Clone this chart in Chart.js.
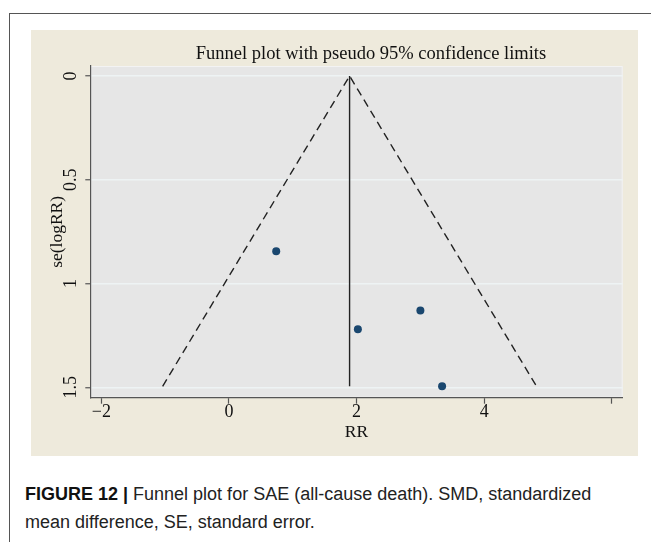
<!DOCTYPE html>
<html>
<head>
<meta charset="utf-8">
<script src="https://cdn.jsdelivr.net/npm/chart.js@4.4.1/dist/chart.umd.min.js"></script>
<style>
  body { margin: 0; background: #fff; width: 651px; height: 542px; overflow: hidden; position: relative; }
  #frame { position: absolute; left: 9px; top: 13px; width: 700px; height: 600px;
           border-left: 1.5px solid #555; border-top: 1.5px solid #555; }
  #panel { position: absolute; left: 31px; top: 30px; width: 607px; height: 426px; background: #eeeadc; }
  #caption { position: absolute; left: 25px; top: 480px; width: 620px;
             font-family: "Liberation Sans", Arial, sans-serif; font-size: 18px; line-height: 28px; color: #222; }
  #caption b { color: #111; }
</style>
</head>
<body>
<div id="frame"></div>
<div id="panel"><canvas id="funnel" width="607" height="426"></canvas></div>
<div id="caption"><b>FIGURE 12 |</b> Funnel plot for SAE (all-cause death). SMD, standardized<br>mean difference, SE, standard error.</div>
<script>
// исследования: RR и его стандартная ошибка
const studyRR = [0.74, 2.02, 3.00, 3.34];
const studySE = [0.845, 1.22, 1.13, 1.495];

// линии воронки (псевдо 95% границы) и вертикаль объединённой оценки
const funnelX = [-1.04, 1.89, 4.82];
const funnelSE = [1.495, 0, 1.495];
const pooledX = [1.89, 1.89];
const pooledSE = [0, 1.495];

const xTicks = [-2, 0, 2, 4, 6];
const xTickLabels = ['\u22122', '0', '2', '4', ''];
const yTicks = [0, 0.5, 1, 1.5];
const yTickLabels = ['0', '0.5', '1', '1.5'];

const titleText = 'Funnel plot with pseudo 95% confidence limits';
const serif = '"Liberation Serif", "Times New Roman", serif';

function toPoints(xs, ys) {
    return xs.map((x, i) => ({ x: x, y: ys[i] }));
}

// серый фон области графика и заголовок
const plotBg = {
    id: 'plotBg',
    beforeDraw(chart) {
        const { ctx, chartArea: a } = chart;
        ctx.save();
        ctx.fillStyle = '#e6e6e6';
        ctx.fillRect(a.left, a.top, a.right - a.left, a.bottom - a.top);
        ctx.strokeStyle = '#f3f3f3';
        ctx.lineWidth = 1;
        ctx.strokeRect(a.left + 0.5, a.top + 0.5, a.right - a.left - 1, a.bottom - a.top - 1);
        ctx.restore();
    },
    afterDraw(chart) {
        const ctx = chart.ctx;
        ctx.save();
        ctx.font = '18.5px ' + serif;
        ctx.fillStyle = '#111';
        ctx.textAlign = 'center';
        ctx.textBaseline = 'middle';
        ctx.fillText(titleText, 340, 24);
        ctx.restore();
    }
};

const ctx = document.getElementById('funnel').getContext('2d');

const funnelChart = new Chart(ctx, {
    type: 'scatter',
    data: {
        datasets: [
            {
                label: 'pseudo 95% CI',
                data: toPoints(funnelX, funnelSE),
                showLine: true,
                borderColor: '#222',
                borderWidth: 1.4,
                borderDash: [8, 5],
                pointRadius: 0
            },
            {
                label: 'pooled',
                data: toPoints(pooledX, pooledSE),
                showLine: true,
                borderColor: '#222',
                borderWidth: 1.4,
                pointRadius: 0
            },
            {
                label: 'studies',
                data: toPoints(studyRR, studySE),
                backgroundColor: '#1a476f',
                borderColor: '#1a476f',
                pointRadius: 4,
                borderWidth: 0
            }
        ]
    },
    options: {
        responsive: false,
        animation: false,
        layout: { padding: { top: 36, right: 15.3, left: 0, bottom: 0 } },
        plugins: {
            legend: { display: false },
            tooltip: { enabled: false }
        },
        scales: {
            x: {
                type: 'linear',
                min: -2.174,
                max: 6.171,
                afterBuildTicks: axis => { axis.ticks = xTicks.map(v => ({ value: v })); },
                afterFit: axis => { axis.height = 58.3; },
                ticks: {
                    callback: (v, i) => xTickLabels[i],
                    font: { family: serif, size: 18 },
                    color: '#111',
                    padding: -2,
                    maxRotation: 0
                },
                grid: { drawOnChartArea: false, tickLength: 6, tickColor: '#555', tickWidth: 1.2 },
                border: { display: true, color: '#555', width: 1.2 },
                title: {
                    display: true,
                    text: 'RR',
                    font: { family: serif, size: 17.5 },
                    color: '#111',
                    padding: { top: 0, bottom: 13 }
                }
            },
            y: {
                type: 'linear',
                reverse: true,
                min: -0.048,
                max: 1.55,
                afterBuildTicks: axis => { axis.ticks = yTicks.map(v => ({ value: v })); },
                afterFit: axis => { axis.width = 59.3; },
                ticks: {
                    callback: (v, i) => yTickLabels[i],
                    font: { family: serif, size: 18 },
                    color: '#111',
                    minRotation: 90,
                    maxRotation: 90,
                    crossAlign: 'center',
                    padding: 3
                },
                grid: { color: '#eef3f4', lineWidth: 1.5, tickLength: 5, tickColor: '#555', tickWidth: 1.2 },
                border: { display: true, color: '#555', width: 1.2 },
                title: {
                    display: true,
                    text: 'se(logRR)',
                    font: { family: serif, size: 17.5 },
                    color: '#111',
                    padding: { top: 16, bottom: 0 }
                }
            }
        }
    },
    plugins: [plotBg]
});
</script>
</body>
</html>
